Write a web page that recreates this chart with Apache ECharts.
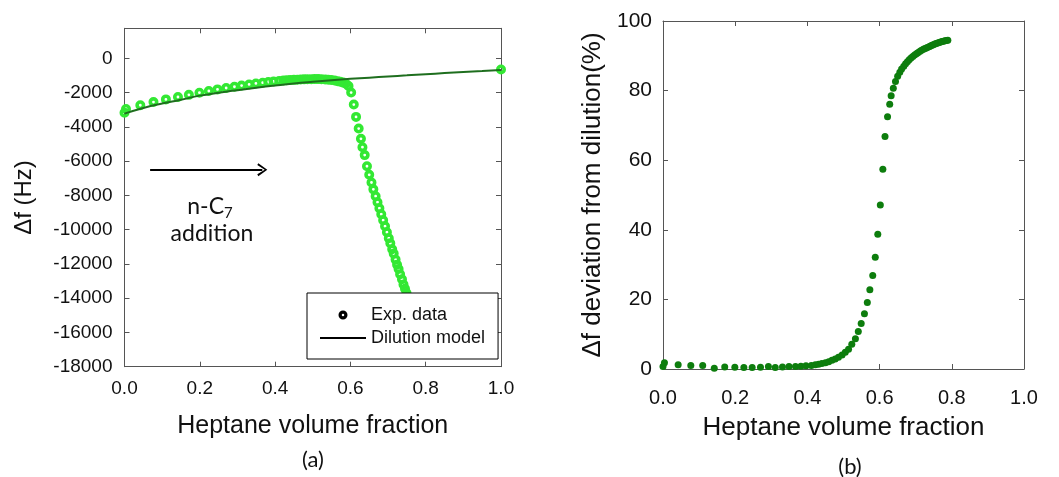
<!DOCTYPE html>
<html>
<head>
<meta charset="utf-8">
<script src="https://cdn.jsdelivr.net/npm/echarts@6/dist/echarts.min.js"></script>
<style>
html, body { margin: 0; padding: 0; background: #fff; }
#chart-container { width: 1059px; height: 477px; }
</style>
</head>
<body>
<div id="chart-container"></div>
<script>
// heptane volume fraction of each titration step (shared by both panels)
var fraction = [0.000, 0.004, 0.042, 0.077, 0.110, 0.142, 0.171, 0.199, 0.224, 0.247,
    0.270, 0.292, 0.311, 0.331, 0.349, 0.367, 0.382, 0.396, 0.411, 0.422,
    0.431, 0.440, 0.450, 0.459, 0.468, 0.477, 0.486, 0.496, 0.505, 0.514,
    0.523, 0.533, 0.541, 0.549, 0.558, 0.566, 0.573, 0.581, 0.588, 0.595,
    0.602, 0.609, 0.615, 0.622, 0.628, 0.632, 0.638, 0.644, 0.650, 0.656,
    0.661, 0.667, 0.672, 0.677, 0.682, 0.687, 0.692, 0.697, 0.702, 0.706,
    0.711, 0.715, 0.720, 0.724, 0.728, 0.732, 0.737, 0.741, 0.745, 0.749,
    0.753, 0.757, 0.761, 0.765, 0.769, 0.773, 0.777, 0.781, 0.785, 0.789];

// (a) measured frequency shift, Hz
var expShift = [-3180, -2960, -2740, -2555, -2400, -2260, -2135, -2010, -1910, -1815,
    -1735, -1660, -1590, -1525, -1470, -1425, -1385, -1350, -1320, -1300,
    -1285, -1272, -1260, -1248, -1238, -1230, -1225, -1220, -1215, -1215,
    -1222, -1240, -1255, -1272, -1300, -1335, -1370, -1420, -1490, -1620,
    -2000, -2700, -3420, -4100, -4700, -5190, -5650, -6300, -6800, -7250,
    -7650, -8050, -8400, -8750, -9100, -9450, -9800, -10150, -10500, -10800,
    -11150, -11400, -11750, -12050, -12300, -12600, -12900, -13200, -13450, -13700,
    -13950, -14250, -14500, -14800, -15050, -15300, -15600, -15850, -16100, -16350];

// pure heptane point
var pureFraction = [1.0];
var pureShift = [-650];

// (a) dilution model curve
var modelFraction = [0, 0.05, 0.1, 0.15, 0.2, 0.25, 0.3, 0.35, 0.4, 0.45, 0.5,
    0.55, 0.6, 0.65, 0.7, 0.75, 0.8, 0.85, 0.9, 0.95, 1.0];
var modelShift = [-3230, -2900, -2640, -2420, -2180, -2010, -1860, -1720, -1590, -1470, -1370,
    -1280, -1200, -1130, -1060, -995, -930, -865, -800, -740, -680];

// (b) deviation from dilution, %
var deviation = [0.7, 1.8, 1.2, 1.0, 1.0, 0.2, 0.6, 0.5, 0.4, 0.4,
    0.5, 0.7, 0.4, 0.6, 0.7, 0.7, 0.8, 0.9, 1.0, 1.2,
    1.4, 1.6, 1.8, 2.1, 2.5, 2.9, 3.4, 4.0, 4.8, 5.7,
    7.1, 8.7, 10.8, 13.1, 15.9, 19.1, 22.8, 26.9, 32.1, 38.7,
    47.1, 57.4, 66.8, 72.5, 76.1, 78.5, 80.7, 82.6, 84.1, 85.3,
    86.2, 87.0, 87.7, 88.3, 88.9, 89.4, 89.8, 90.2, 90.6, 90.9,
    91.2, 91.5, 91.8, 92.0, 92.2, 92.4, 92.6, 92.8, 93.0, 93.2,
    93.4, 93.5, 93.7, 93.8, 94.0, 94.1, 94.2, 94.3, 94.4, 94.5];

// arrow annotation in panel (a): start/end fraction, shift level
var arrowFraction = [0.068, 0.366];
var arrowShift = -6500;

var dom = document.getElementById('chart-container');
var myChart = echarts.init(dom, null, { renderer: 'canvas' });

var sans = 'Liberation Sans, Arial, sans-serif';
var frame = { show: true, onZero: false, lineStyle: { color: '#555', width: 1 } };
var ticks = { show: true, inside: true, length: 5, lineStyle: { color: '#555' } };
// thick ring with a small hole, like the open markers of the original
var ringSymbol = 'path://M0,5 A5,5 0 1,1 10,5 A5,5 0 1,1 0,5 Z M3.6,5 A1.4,1.4 0 1,0 6.4,5 A1.4,1.4 0 1,0 3.6,5 Z';

function pairs(xs, ys) {
    return xs.map(function (x, i) { return [x, ys[i]]; });
}

var expData = pairs(fraction, expShift).concat(pairs(pureFraction, pureShift));

function xAxisFor(grid, pos, labels, fontSize, margin, name, nameGap) {
    return {
        type: 'value', gridIndex: grid, position: pos, min: 0, max: 1, interval: 0.2,
        axisLine: frame, axisTick: ticks,
        splitLine: { show: false },
        axisLabel: {
            show: labels, margin: margin, color: '#111', fontSize: fontSize, fontFamily: sans,
            formatter: function (v) { return v.toFixed(1); }
        },
        name: name, nameLocation: 'middle', nameGap: nameGap,
        nameTextStyle: { color: '#111', fontSize: fontSize + 6, fontFamily: sans }
    };
}

option = {
    backgroundColor: '#fff',
    animation: false,
    grid: [
        { left: 124.5, top: 28.3, width: 376.5, height: 338.4 },
        { left: 663, top: 21, width: 361, height: 348 }
    ],
    xAxis: [
        xAxisFor(0, 'bottom', true, 19, 13, 'Heptane volume fraction', 47),
        xAxisFor(0, 'top', false, 19, 13, '', 0),
        xAxisFor(1, 'bottom', true, 20, 19, 'Heptane volume fraction', 46),
        xAxisFor(1, 'top', false, 20, 19, '', 0)
    ],
    yAxis: [
        {
            type: 'value', gridIndex: 0, position: 'left', min: -18000, max: 1750, interval: 2000,
            axisLine: frame, axisTick: ticks,
            splitLine: { show: false },
            axisLabel: {
                margin: 12, color: '#111', fontSize: 19, fontFamily: sans, showMaxLabel: false,
                formatter: function (v) { return String(v); }
            },
            name: '\u0394f (Hz)', nameLocation: 'middle', nameRotate: 90, nameGap: 88,
            nameTextStyle: { color: '#111', fontSize: 24, fontFamily: sans }
        },
        {
            type: 'value', gridIndex: 0, position: 'right', min: -18000, max: 1750, interval: 2000,
            axisLine: frame, axisTick: ticks,
            splitLine: { show: false },
            axisLabel: { show: false }
        },
        {
            type: 'value', gridIndex: 1, position: 'left', min: 0, max: 100, interval: 20,
            axisLine: frame, axisTick: ticks,
            splitLine: { show: false },
            axisLabel: { margin: 11, color: '#111', fontSize: 21, fontFamily: sans },
            name: '\u0394f deviation from dilution(%)', nameLocation: 'middle', nameRotate: 90, nameGap: 57,
            nameTextStyle: { color: '#111', fontSize: 26, fontFamily: sans }
        },
        {
            type: 'value', gridIndex: 1, position: 'right', min: 0, max: 100, interval: 20,
            axisLine: frame, axisTick: ticks,
            splitLine: { show: false },
            axisLabel: { show: false }
        }
    ],
    legend: {
        orient: 'vertical', left: 307, top: 293,
        padding: [13, 13, 12, 12], itemGap: 5,
        itemWidth: 46, itemHeight: 9,
        backgroundColor: '#fff', borderColor: '#000', borderWidth: 1,
        textStyle: { color: '#111', fontSize: 18, fontFamily: sans },
        data: [
            { name: 'Exp. data', icon: ringSymbol, itemStyle: { color: '#000', borderWidth: 0, opacity: 1 } },
            { name: 'Dilution model', itemStyle: { opacity: 0 }, lineStyle: { color: '#000', width: 2, opacity: 1 } }
        ]
    },
    series: [
        {
            name: 'Dilution model', type: 'line', xAxisIndex: 0, yAxisIndex: 0,
            data: pairs(modelFraction, modelShift),
            showSymbol: false, symbol: 'none', smooth: true, z: 3,
            lineStyle: { color: '#1e6e1e', width: 2 },
            itemStyle: { color: '#1e6e1e' },
            markLine: {
                silent: true,
                symbol: ['none', 'path://M5,0 L10,9 L8.6,10 L5,2.6 L1.4,10 L0,9 Z'],
                symbolSize: [13, 10],
                label: { show: false },
                lineStyle: { color: '#000', width: 2, type: 'solid' },
                data: [[{ coord: [arrowFraction[0], arrowShift] }, { coord: [arrowFraction[1], arrowShift] }]]
            }
        },
        {
            name: 'Exp. data', type: 'scatter', xAxisIndex: 0, yAxisIndex: 0,
            data: expData, symbol: ringSymbol, symbolSize: 10, z: 2,
            itemStyle: { color: '#33e833', borderWidth: 0, opacity: 1 }
        },
        {
            name: 'Deviation', type: 'scatter', xAxisIndex: 2, yAxisIndex: 2,
            data: pairs(fraction, deviation), symbol: 'circle', symbolSize: 7,
            itemStyle: { color: '#0d7d0d', opacity: 1 }
        }
    ],
    graphic: [
        {
            type: 'text', x: 210, y: 207,
            style: {
                text: '{a|n-C}{s|7}', textAlign: 'center', textVerticalAlign: 'middle',
                rich: {
                    a: { fontSize: 23, fontFamily: 'Lato, Open Sans, sans-serif', fill: '#111' },
                    s: { fontSize: 15, fontFamily: 'Lato, Open Sans, sans-serif', fill: '#111', padding: [12, 0, 0, 0] }
                }
            }
        },
        {
            type: 'text', x: 212, y: 234,
            style: { text: 'addition', textAlign: 'center', textVerticalAlign: 'middle',
                fontSize: 23, fontFamily: 'Lato, Open Sans, sans-serif', fill: '#111' }
        },
        {
            type: 'text', x: 313, y: 460,
            style: { text: '(a)', textAlign: 'center', textVerticalAlign: 'middle',
                fontSize: 22, fontFamily: 'Lato, Open Sans, sans-serif', fill: '#111' }
        },
        {
            type: 'text', x: 850, y: 467,
            style: { text: '(b)', textAlign: 'center', textVerticalAlign: 'middle',
                fontSize: 22, fontFamily: 'Lato, Open Sans, sans-serif', fill: '#111' }
        }
    ]
};

if (option && typeof option === 'object') {
    myChart.setOption(option);
}

window.addEventListener('resize', myChart.resize);
</script>
</body>
</html>
